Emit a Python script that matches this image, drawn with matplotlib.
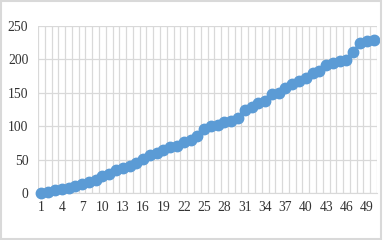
import numpy as np
import matplotlib.pyplot as plt
from matplotlib.patches import Rectangle
from matplotlib.ticker import FixedLocator, NullFormatter

plt.rcParams['font.family'] = ['Liberation Serif', 'DejaVu Serif']

categories = list(range(1, 51))
values = [0, 2, 4, 6, 8, 10, 14, 17, 20, 26,
          29, 35, 38, 41, 45, 51, 57, 60, 64, 69,
          71, 76, 80, 86, 96, 100, 102, 106, 108, 112,
          125, 129, 134, 138, 148, 150, 157, 163, 167, 172,
          179, 182, 191, 194, 197, 199, 211, 224, 227, 229]
tick_labels = list(range(1, 51, 3))
y_ticks = [0, 50, 100, 150, 200, 250]

fig = plt.figure(figsize=(3.83, 2.4), dpi=100)
ax = fig.add_axes([38 / 383, 1 - 193 / 240, (377 - 38) / 383, (193 - 26) / 240])

ax.plot(categories, values, color='#5B9BD5', linewidth=2.5, marker='o',
        markersize=7.5, zorder=3, clip_on=False)

ax.set_xlim(0.5, 50.5)
ax.set_ylim(0, 250)
ax.set_yticks(y_ticks)
ax.set_xticks(tick_labels)
ax.xaxis.set_minor_locator(FixedLocator(np.arange(0.5, 51, 1)))
ax.xaxis.set_minor_formatter(NullFormatter())
ax.grid(axis='x', which='minor', color='#D9D9D9', linewidth=0.9)
ax.grid(axis='y', which='major', color='#D9D9D9', linewidth=0.9)
ax.tick_params(which='both', length=0, labelsize=9.8, colors='#333333')
ax.tick_params(axis='x', pad=6)
ax.tick_params(axis='y', pad=7)
for s in ['top', 'right', 'left']:
    ax.spines[s].set_visible(False)
ax.spines['bottom'].set_color('#D9D9D9')
ax.set_axisbelow(True)

fig.patches.append(Rectangle((0.002, 0.006), 0.994, 0.988, transform=fig.transFigure,
                             fill=False, edgecolor='#D9D9D9', linewidth=1.5))

fig.savefig('out.png', dpi=100)
